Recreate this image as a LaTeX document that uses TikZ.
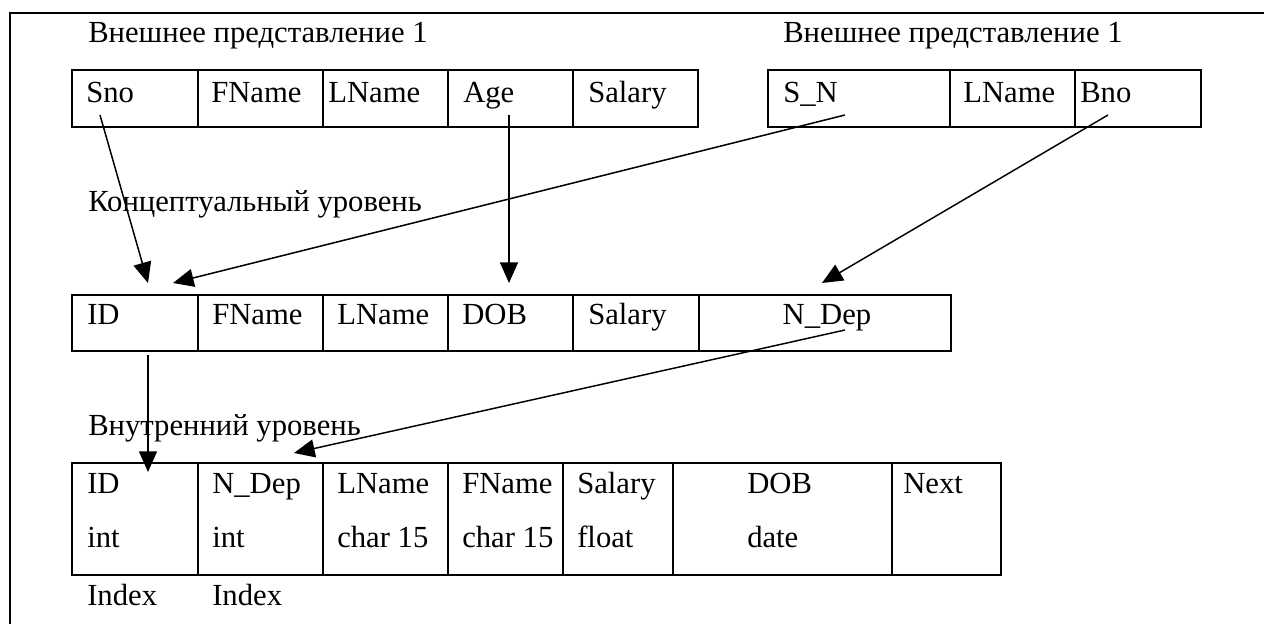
\documentclass[tikz,border=0pt]{standalone}
\usepackage{fontspec}
\setmainfont{Liberation Serif}
\usetikzlibrary{arrows.meta}
\begin{document}
\begin{tikzpicture}[x=0.75pt,y=-0.75pt,
  txt/.style={anchor=base west, inner sep=0pt, font=\fontsize{23}{27}\selectfont},
  grid/.style={line width=1.5pt, line cap=rect},
  frame/.style={line width=1.5pt},
  link/.style={line width=1.1pt, -{Triangle[length=15.5pt,width=13.5pt]}}]
\useasboundingbox (0,0) rectangle (1264,624);

% outer frame (left and top edges)
\draw[frame] (10,624) -- (10,13) -- (1264,13);

% ---------- external view 1 ----------
\node[txt] (ev1) at (88,43) {Внешнее представление 1};
\draw[grid] (72,70) rectangle (698,127);
\foreach \x in {198,323,448,573} \draw[grid] (\x,70) -- (\x,127);
\node[txt] (eSno)  at (86,103)  {Sno};
\node[txt] (eFN)   at (211,103) {FName};
\node[txt] (eLN)   at (328,103) {LName};
\node[txt] (eAge)  at (463,103) {Age};
\node[txt] (eSal)  at (588,103) {Salary};

% ---------- external view 2 ----------
\node[txt] (ev2) at (783,43) {Внешнее представление 1};
\draw[grid] (768,70) rectangle (1201,127);
\foreach \x in {950,1075} \draw[grid] (\x,70) -- (\x,127);
\node[txt] (fSN)  at (783,103)  {S\_N};
\node[txt] (fLN)  at (963,103)  {LName};
\node[txt] (fBno) at (1080,103) {Bno};

% ---------- conceptual level ----------
\node[txt] (cl) at (88,212) {Концептуальный уровень};
\draw[grid] (72,295) rectangle (951,351);
\foreach \x in {198,323,448,573,699} \draw[grid] (\x,295) -- (\x,351);
\node[txt] (cID)  at (87,324)  {ID};
\node[txt] (cFN)  at (212,324) {FName};
\node[txt] (cLN)  at (337,324) {LName};
\node[txt] (cDOB) at (462,324) {DOB};
\node[txt] (cSal) at (588,324) {Salary};
\node[txt, anchor=base] (cND) at (827,324) {N\_Dep};

% ---------- internal level ----------
\node[txt] (il) at (88,435) {Внутренний уровень};
\draw[grid] (72,463) rectangle (1001,575);
\foreach \x in {198,323,448,563,673,892} \draw[grid] (\x,463) -- (\x,575);
\node[txt] (iID)   at (87,493)  {ID};
\node[txt] (iND)   at (212,493) {N\_Dep};
\node[txt] (iLN)   at (337,493) {LName};
\node[txt] (iFN)   at (462,493) {FName};
\node[txt] (iSal)  at (577,493) {Salary};
\node[txt] (iDOB)  at (747,493) {DOB};
\node[txt] (iNext) at (903,493) {Next};
\node[txt] (tID)   at (87,547)  {int};
\node[txt] (tND)   at (212,547) {int};
\node[txt] (tLN)   at (337,547) {char 15};
\node[txt] (tFN)   at (462,547) {char 15};
\node[txt] (tSal)  at (577,547) {float};
\node[txt] (tDOB)  at (747,547) {date};
\node[txt] (xID)   at (87,605)  {Index};
\node[txt] (xND)   at (212,605) {Index};

% ---------- mapping connectors ----------
\coordinate (aSno) at (100,115);  \coordinate (aID)  at (148,283);
\coordinate (aSN)  at (845,115);  \coordinate (aID2) at (173,283);
\coordinate (aAge) at (509,115);  \coordinate (aDOB) at (509,283);
\coordinate (aBno) at (1108,115); \coordinate (aND)  at (822,283);
\coordinate (bID)  at (148,355);  \coordinate (bIDi) at (148,472);
\coordinate (bND)  at (845,330);  \coordinate (bNDi) at (294,453);

\draw[link] (aSno) -- (aID);
\draw[link] (aSN)  -- (aID2);
\draw[link] (aAge) -- (aDOB);
\draw[link] (aBno) -- (aND);
\draw[link] (bID)  -- (bIDi);
\draw[link] (bND)  -- (bNDi);
\end{tikzpicture}
\end{document}
